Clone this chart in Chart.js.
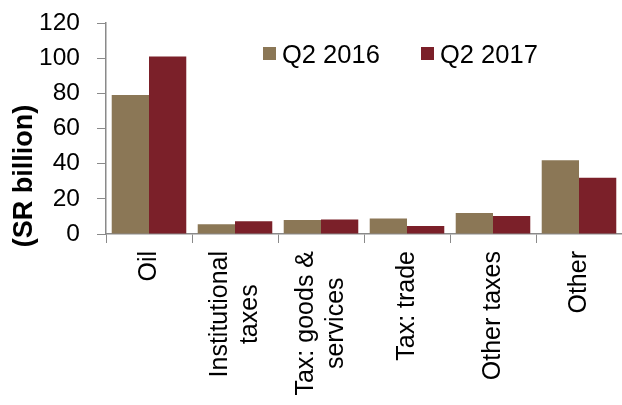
<!DOCTYPE html>
<html>
<head>
<meta charset="utf-8">
<script src="https://cdn.jsdelivr.net/npm/chart.js@4"></script>
<style>
  html, body { margin: 0; padding: 0; background: #fff; }
  #wrap { width: 622px; height: 405px; }
</style>
</head>
<body>
<div id="wrap"><canvas id="revChart" width="622" height="405"></canvas></div>
<script>
const categories = [
  'Oil',
  ['Institutional', 'taxes'],
  ['Tax: goods &', 'services'],
  'Tax: trade',
  'Other taxes',
  'Other'
];
const q2_2016 = [79, 5.5, 8, 8.8, 12, 42];
const q2_2017 = [101, 7.3, 8.2, 4.6, 10.3, 32];
const yTicks = [0, 20, 40, 60, 80, 100, 120];
const yTitle = '(SR billion)';

const FONT = '"Liberation Sans", Arial, sans-serif';
const AXIS_GRAY = '#8a8a8a';

// legend inside the plot, rotated category labels with centred lines,
// and the y title sitting a bit low like in the original
const extraText = {
  id: 'extraText',
  afterDraw(chart) {
    const { ctx, chartArea, scales } = chart;
    ctx.save();
    ctx.fillStyle = '#000';

    // category labels
    ctx.font = '25px ' + FONT;
    ctx.textAlign = 'center';
    ctx.textBaseline = 'middle';
    const lineH = 30;
    const top = chartArea.bottom + 17;
    chart.data.labels.forEach((lab, i) => {
      const lines = Array.isArray(lab) ? lab : [lab];
      const w = Math.max(...lines.map(l => ctx.measureText(l).width));
      const x = scales.x.getPixelForTick(i);
      ctx.save();
      ctx.translate(x, top);
      ctx.rotate(-Math.PI / 2);
      lines.forEach((l, j) => {
        ctx.fillText(l, -w / 2, (j - (lines.length - 1) / 2) * lineH);
      });
      ctx.restore();
    });

    // y title
    ctx.save();
    ctx.font = 'bold 27px ' + FONT;
    ctx.translate(25, chartArea.bottom - 58);
    ctx.rotate(-Math.PI / 2);
    ctx.fillText(yTitle, 0, 0);
    ctx.restore();

    // legend
    const xs = [263, 421];
    ctx.font = '25.5px ' + FONT;
    ctx.textAlign = 'left';
    ctx.textBaseline = 'alphabetic';
    chart.data.datasets.forEach((ds, i) => {
      ctx.fillStyle = ds.backgroundColor;
      ctx.fillRect(xs[i], 47, 13, 13);
      ctx.fillStyle = '#000';
      ctx.fillText(ds.label, xs[i] + 19, 63);
    });
    ctx.restore();
  }
};

const ctx = document.getElementById('revChart').getContext('2d');
new Chart(ctx, {
  type: 'bar',
  data: {
    labels: categories,
    datasets: [
      {
        label: 'Q2 2016',
        data: q2_2016,
        backgroundColor: '#8b7756',
        categoryPercentage: 0.867,
        barPercentage: 1.0
      },
      {
        label: 'Q2 2017',
        data: q2_2017,
        backgroundColor: '#7b2029',
        categoryPercentage: 0.867,
        barPercentage: 1.0
      }
    ]
  },
  options: {
    responsive: false,
    animation: false,
    layout: { padding: { left: 5, top: 23, right: 0, bottom: 0 } },
    scales: {
      x: {
        grid: { drawOnChartArea: false, drawTicks: true, tickLength: 9, color: AXIS_GRAY, offset: true },
        border: { color: AXIS_GRAY, width: 1.5 },
        ticks: { display: false },
        afterFit(scale) { scale.height = 171; }
      },
      y: {
        min: 0,
        max: 120,
        afterBuildTicks(scale) { scale.ticks = yTicks.map(v => ({ value: v })); },
        grid: { drawOnChartArea: false, drawTicks: true, tickLength: 9, color: AXIS_GRAY },
        border: { color: AXIS_GRAY, width: 1.5 },
        ticks: {
          padding: 17,
          color: '#000',
          font: { family: FONT, size: 24.5 }
        },
        afterFit(scale) {
          scale.width = 101;
          scale.paddingTop = 0;
          scale.paddingBottom = 0;
        }
      }
    },
    plugins: {
      legend: { display: false },
      tooltip: { enabled: false }
    }
  },
  plugins: [extraText]
});
</script>
</body>
</html>
